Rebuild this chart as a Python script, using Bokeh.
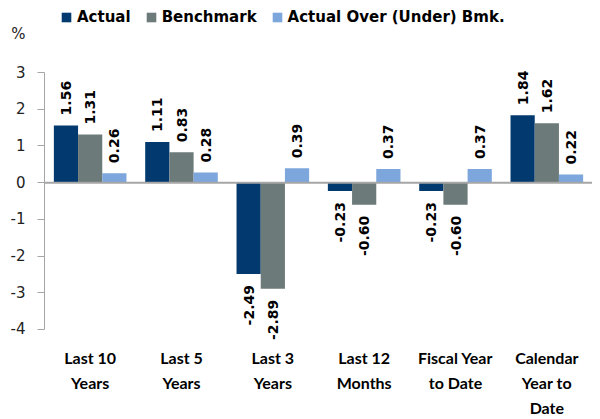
import math
from bokeh.plotting import figure
from bokeh.models import (ColumnDataSource, FactorRange, Range1d, FixedTicker, Span,
                          Legend, LegendItem, LinearAxis)
from bokeh.transform import dodge
from bokeh.core.properties import value
from bokeh.embed import file_html
from bokeh.resources import INLINE

categories = ["Last 10\nYears", "Last 5\nYears", "Last 3\nYears", "Last 12\nMonths",
              "Fiscal Year\nto Date", "Calendar\nYear to\nDate"]
actual = [1.56, 1.11, -2.49, -0.23, -0.23, 1.84]
benchmark = [1.31, 0.83, -2.89, -0.60, -0.60, 1.62]
over_under = [0.26, 0.28, 0.39, 0.37, 0.37, 0.22]
y_ticks = [-4, -3, -2, -1, 0, 1, 2, 3]
y_tick_labels = ["-4", "-3", "-2", "-1", "0", "1", "2", "3"]
unit_label = "%"

series = [("Actual", actual, "#023a6f", -0.265),
          ("Benchmark", benchmark, "#6c7a79", 0.0),
          ("Actual Over (Under) Bmk.", over_under, "#7ca6dc", 0.265)]

# layout: frame spans from canvas top (legend area) to just below -4
PX_PER_UNIT = 36.67
TOP_PAD_PX = 72
BOTTOM_PAD_PX = 12
UNIT_LABEL_PX = 39   # unit marker sits this far above the top tick
y_lo, y_hi = min(y_ticks), max(y_ticks)
frame_h = int(round(TOP_PAD_PX + BOTTOM_PAD_PX + (y_hi - y_lo) * PX_PER_UNIT))
unit_y = y_hi + UNIT_LABEL_PX / PX_PER_UNIT

p = figure(x_range=FactorRange(*categories),
           y_range=Range1d(y_lo - BOTTOM_PAD_PX / PX_PER_UNIT, y_hi + TOP_PAD_PX / PX_PER_UNIT),
           frame_width=548, frame_height=frame_h, output_backend="svg", toolbar_location=None,
           min_border_left=44, min_border_right=0, min_border_top=0, min_border_bottom=0)
p.outline_line_color = None
p.grid.grid_line_color = None

items = []
for name, vals, color, off in series:
    src = ColumnDataSource(dict(
        cat=categories, val=vals,
        lbl=["%.2f" % v for v in vals],
        align=["left" if v >= 0 else "right" for v in vals],
        yoff=[-10 if v >= 0 else 11 for v in vals],
    ))
    r = p.vbar(x=dodge("cat", off, range=p.x_range), top="val", bottom=0, width=0.265,
               source=src, fill_color=color, line_color=None)
    items.append(LegendItem(label=name, renderers=[r]))
    p.text(x=dodge("cat", off, range=p.x_range), y="val", text="lbl", source=src,
           angle=math.pi / 2, text_align="align", text_baseline="middle",
           y_offset="yoff", text_font=value("DejaVu Sans"), text_font_size="14px",
           text_font_style="bold", text_color="#000000")

p.add_layout(Span(location=0, dimension="width", line_color="#a6a6a6", line_width=2))

# inner axis: line and tick marks only
ya = p.yaxis[0]
ya.ticker = FixedTicker(ticks=y_ticks)
ya.bounds = (y_lo, y_hi)
ya.major_label_overrides = {t: "" for t in y_ticks}
ya.axis_line_color = "#a6a6a6"
ya.major_tick_line_color = "#a6a6a6"
ya.major_tick_out = 7
ya.major_tick_in = 0
ya.minor_tick_line_color = None
ya.major_label_standoff = 0

# outer axis: tick labels plus the unit marker
yl = LinearAxis(ticker=FixedTicker(ticks=y_ticks + [unit_y]),
                major_label_overrides={**dict(zip(y_ticks, y_tick_labels)), unit_y: unit_label},
                axis_line_color=None, major_tick_line_color=None, minor_tick_line_color=None,
                major_tick_out=0, major_tick_in=0, major_label_standoff=12,
                major_label_text_font="DejaVu Sans", major_label_text_font_size="15px",
                major_label_text_color="#222222")
p.add_layout(yl, "left")

xa = p.xaxis[0]
xa.axis_line_color = None
xa.major_tick_line_color = None
xa.minor_tick_line_color = None
xa.major_label_standoff = 0
xa.major_label_text_font = "Lato"
xa.major_label_text_font_style = "bold"
xa.major_label_text_font_size = "16px"
xa.major_label_text_line_height = 1.34
xa.major_label_text_color = "#000000"

lg = Legend(items=items, orientation="horizontal", location=(16, frame_h - 26),
            glyph_width=12, glyph_height=12, label_standoff=5, spacing=14,
            padding=0, margin=0, border_line_color=None, background_fill_alpha=0,
            label_text_font="DejaVu Sans", label_text_font_style="bold",
            label_text_font_size="15px", label_text_color="#000000")
p.add_layout(lg)

open("out.html", "w").write(file_html(p, INLINE))
